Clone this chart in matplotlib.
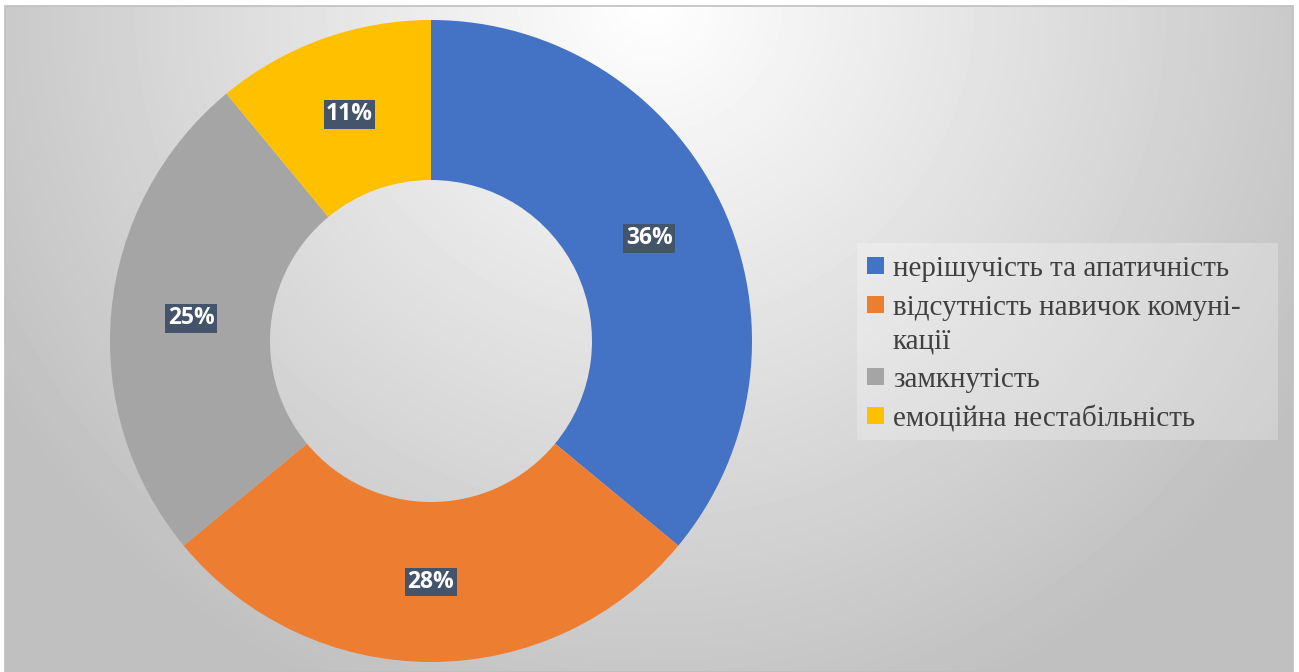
import numpy as np
import matplotlib.pyplot as plt
from matplotlib.patches import Rectangle

labels = ["нерішучість та апатичність", "відсутність навичок комуні-\nкації",
          "замкнутість", "емоційна нестабільність"]
values = [36, 28, 25, 11]
colors = ["#4472C4", "#ED7D31", "#A5A5A5", "#FFC000"]

W, H = 1299, 672
fig = plt.figure(figsize=(W / 100, H / 100), dpi=100)
ax = fig.add_axes([0, 0, 1, 1])
ax.set_xlim(0, W)
ax.set_ylim(0, H)
ax.axis("off")

# radial grey background, bright at top centre
xx, yy = np.meshgrid(np.arange(5, 1293), np.arange(6, H))
d = np.hypot(xx - 650, yy)
v = np.clip(255 - 0.083 * d, 192, 255) / 255
ax.imshow(v, cmap="gray", vmin=0, vmax=1, extent=(5, 1293, 0, H - 6),
          origin="upper", zorder=0, aspect="auto", interpolation="bilinear")
ax.add_patch(Rectangle((5, 0), 1288, H - 6, fill=False, ec="#BFBFBF", lw=1.2, zorder=1))

cx, cy, R, w = 431, H - 341, 321, 160
ax.pie(values, colors=colors, startangle=90, counterclock=False,
       center=(cx, cy), radius=R, frame=True,
       wedgeprops=dict(width=w, linewidth=0))
ax.set_xlim(0, W)
ax.set_ylim(0, H)
ax.set_aspect("auto")
ax.axis("off")

total = sum(values)
cum = 0
for val in values:
    ang = np.deg2rad(90 - 360 * (cum + val / 2) / total)
    cum += val
    r = R - w / 2
    ax.text(cx + r * np.cos(ang), cy + r * np.sin(ang), f"{val}%",
            ha="center", va="center", color="white", fontsize=16.5,
            fontweight="bold", family="Open Sans", zorder=5,
            bbox=dict(boxstyle="square,pad=0.1", fc="#44546A", ec="none"))

# legend
ax.add_patch(Rectangle((857, H - 440), 421, 197, fc="white", alpha=0.25,
                       ec="none", zorder=2))
y = 276
for lab, col in zip(labels, colors):
    ax.add_patch(Rectangle((867, H - y + 2), 17, 17, fc=col, ec="none", zorder=3))
    for line in lab.split("\n"):
        ax.text(893, H - y, line, ha="left", va="baseline", fontsize=21,
                family="Liberation Serif", color="#404040", zorder=3)
        y += 33
    y += 6

fig.savefig("out.png", dpi=100)
